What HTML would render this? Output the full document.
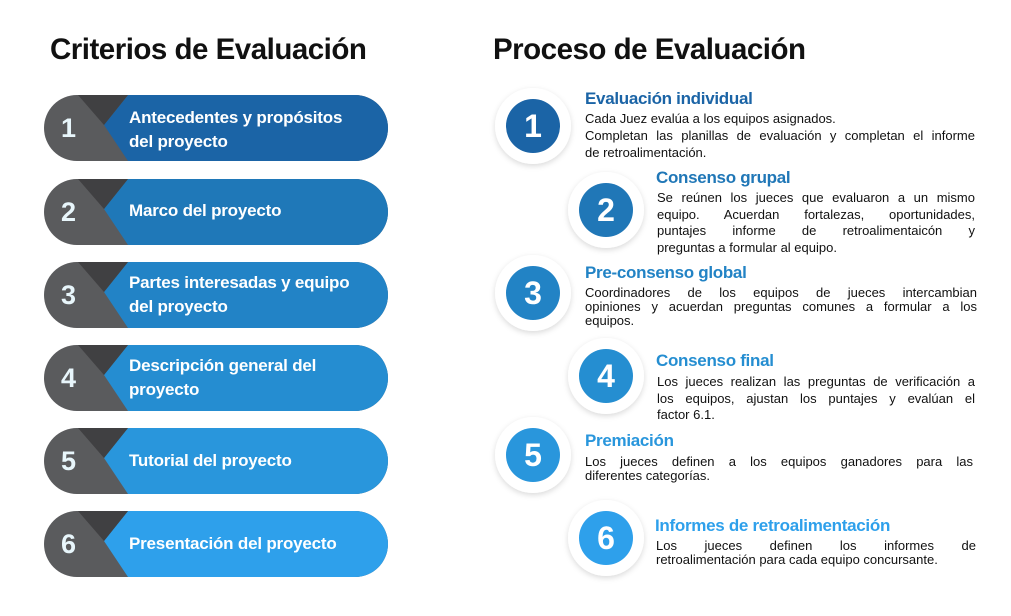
<!DOCTYPE html>
<html><head><meta charset="utf-8"><style>
body{margin:0;width:1011px;height:616px;background:#fff;position:relative;overflow:hidden;font-family:"Liberation Sans",sans-serif}
.h{position:absolute;font-weight:bold;font-size:29.5px;color:#111;letter-spacing:-0.5px;top:33px}
.t{position:absolute;font-weight:bold;font-size:17px;line-height:20px;letter-spacing:-0.3px}
.p{position:absolute;font-size:13px;color:#111}
.p div{white-space:nowrap;text-align:justify;text-align-last:justify}
.p div.l{text-align-last:left}
.lab{position:absolute;left:129px;color:#fff;font-weight:bold;font-size:17px;line-height:24px;letter-spacing:-0.2px}
</style></head><body>
<div class="h" style="left:50px">Criterios de Evaluación</div>
<div class="h" style="left:493px">Proceso de Evaluación</div>
<svg width="1011" height="616" style="position:absolute;left:0;top:0">
<defs><filter id="sh" x="-30%" y="-30%" width="160%" height="160%"><feDropShadow dx="0" dy="2" stdDeviation="3" flood-color="#000" flood-opacity="0.15"/></filter></defs>
<g filter="url(#sh)" fill="#fff">
<circle cx="533" cy="126" r="38"/><circle cx="606" cy="210" r="38"/><circle cx="533" cy="293" r="38"/>
<circle cx="606" cy="376" r="38"/><circle cx="533" cy="455" r="38"/><circle cx="606" cy="538" r="38"/>
</g>
<g font-family="Liberation Sans" font-weight="bold" font-size="32" fill="#fff" text-anchor="middle">
<circle cx="533" cy="126" r="27" fill="#1b64a6"/><text x="533" y="137">1</text>
<circle cx="606" cy="210" r="27" fill="#2077b7"/><text x="606" y="221">2</text>
<circle cx="533" cy="293" r="27" fill="#2283c5"/><text x="533" y="304">3</text>
<circle cx="606" cy="376" r="27" fill="#258ed1"/><text x="606" y="387">4</text>
<circle cx="533" cy="455" r="27" fill="#2996dc"/><text x="533" y="466">5</text>
<circle cx="606" cy="538" r="27" fill="#2ea0eb"/><text x="606" y="549">6</text>
</g>
<g font-family="Liberation Sans" font-weight="bold" font-size="27" fill="#e8f6fb">
<g transform="translate(0,95)"><rect x="44" y="0" width="344" height="66" rx="33" fill="#5a5b5d"/><path d="M128 0H355A33 33 0 0 1 355 66H128L104 30Z" fill="#1b64a6"/><path d="M78 0H128L104 30Z" fill="#404042"/><text x="61" y="42">1</text></g>
<g transform="translate(0,179)"><rect x="44" y="0" width="344" height="66" rx="33" fill="#5a5b5d"/><path d="M128 0H355A33 33 0 0 1 355 66H128L104 30Z" fill="#1f78b8"/><path d="M78 0H128L104 30Z" fill="#404042"/><text x="61" y="42">2</text></g>
<g transform="translate(0,262)"><rect x="44" y="0" width="344" height="66" rx="33" fill="#5a5b5d"/><path d="M128 0H355A33 33 0 0 1 355 66H128L104 30Z" fill="#2283c6"/><path d="M78 0H128L104 30Z" fill="#404042"/><text x="61" y="42">3</text></g>
<g transform="translate(0,345)"><rect x="44" y="0" width="344" height="66" rx="33" fill="#5a5b5d"/><path d="M128 0H355A33 33 0 0 1 355 66H128L104 30Z" fill="#258dd1"/><path d="M78 0H128L104 30Z" fill="#404042"/><text x="61" y="42">4</text></g>
<g transform="translate(0,428)"><rect x="44" y="0" width="344" height="66" rx="33" fill="#5a5b5d"/><path d="M128 0H355A33 33 0 0 1 355 66H128L104 30Z" fill="#2996dc"/><path d="M78 0H128L104 30Z" fill="#404042"/><text x="61" y="42">5</text></g>
<g transform="translate(0,511)"><rect x="44" y="0" width="344" height="66" rx="33" fill="#5a5b5d"/><path d="M128 0H355A33 33 0 0 1 355 66H128L104 30Z" fill="#2ea0eb"/><path d="M78 0H128L104 30Z" fill="#404042"/><text x="61" y="42">6</text></g>
</g></svg>
<div class="lab" style="top:106px">Antecedentes y propósitos<br>del proyecto</div>
<div class="lab" style="top:199px">Marco del proyecto</div>
<div class="lab" style="top:271px">Partes interesadas y equipo<br>del proyecto</div>
<div class="lab" style="top:354px">Descripción general del<br>proyecto</div>
<div class="lab" style="top:449px">Tutorial del proyecto</div>
<div class="lab" style="top:532px">Presentación del proyecto</div>

<div class="t" style="left:585px;top:89px;color:#1b64a6">Evaluación individual</div>
<div class="p" style="left:585px;top:110px;width:390px;line-height:17px"><div class="l">Cada Juez evalúa a los equipos asignados.</div><div>Completan las planillas de evaluación y completan el informe</div><div class="l">de retroalimentación.</div></div>
<div class="t" style="left:656px;top:168px;color:#2077b7">Consenso grupal</div>
<div class="p" style="left:657px;top:190px;width:318px;line-height:16.5px"><div>Se reúnen los jueces que evaluaron a un mismo</div><div>equipo. Acuerdan fortalezas, oportunidades,</div><div>puntajes informe de retroalimentaicón y</div><div class="l">preguntas a formular al equipo.</div></div>
<div class="t" style="left:585px;top:263px;color:#2283c5">Pre-consenso global</div>
<div class="p" style="left:585px;top:286px;width:392px;line-height:14px"><div>Coordinadores de los equipos de jueces intercambian</div><div>opiniones y acuerdan preguntas comunes a formular a los</div><div class="l">equipos.</div></div>
<div class="t" style="left:656px;top:351px;color:#258ed1">Consenso final</div>
<div class="p" style="left:657px;top:374px;width:318px;line-height:16.5px"><div>Los jueces realizan las preguntas de verificación a</div><div>los equipos, ajustan los puntajes y evalúan el</div><div class="l">factor 6.1.</div></div>
<div class="t" style="left:585px;top:431px;color:#2996dc">Premiación</div>
<div class="p" style="left:585px;top:455px;width:388px;line-height:14px"><div>Los jueces definen a los equipos ganadores para las</div><div class="l">diferentes categorías.</div></div>
<div class="t" style="left:655px;top:516px;color:#2ea0eb">Informes de retroalimentación</div>
<div class="p" style="left:656px;top:539px;width:320px;line-height:14px"><div>Los jueces definen los informes de</div><div class="l">retroalimentación para cada equipo concursante.</div></div>
</body></html>
